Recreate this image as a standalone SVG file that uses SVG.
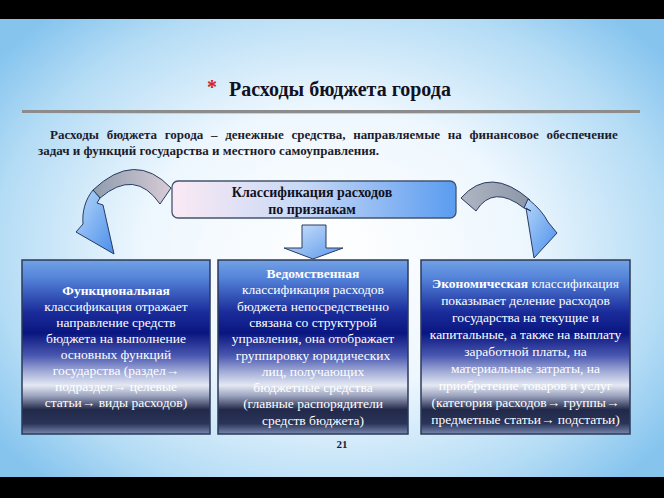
<svg xmlns="http://www.w3.org/2000/svg" width="664" height="498" viewBox="0 0 664 498" font-family="'Liberation Serif', 'DejaVu Serif', serif">
<defs>
<radialGradient id="bg" cx="332" cy="250" r="420" gradientUnits="userSpaceOnUse" gradientTransform="translate(332 250) scale(1 0.75) translate(-332 -250)">
<stop offset="0" stop-color="#ffffff"/>
<stop offset="0.45" stop-color="#eef7fe"/>
<stop offset="0.8" stop-color="#b4dcf5"/>
<stop offset="1" stop-color="#86c4ee"/>
</radialGradient>
<linearGradient id="boxg" x1="0" y1="0" x2="0" y2="1">
<stop offset="0" stop-color="#72a2e4"/>
<stop offset="0.1" stop-color="#5584da"/>
<stop offset="0.3" stop-color="#1a2c9a"/>
<stop offset="0.42" stop-color="#0a1680"/>
<stop offset="0.55" stop-color="#4a58b0"/>
<stop offset="0.64" stop-color="#a0aad8"/>
<stop offset="0.72" stop-color="#e4e8f2"/>
<stop offset="0.78" stop-color="#9ca4c0"/>
<stop offset="0.86" stop-color="#22294a"/>
<stop offset="0.94" stop-color="#2a3458"/>
<stop offset="1" stop-color="#7888b0"/>
</linearGradient>
<linearGradient id="ctrg" x1="0" y1="0" x2="1" y2="0">
<stop offset="0" stop-color="#fbeaf4"/>
<stop offset="0.45" stop-color="#c9d9f6"/>
<stop offset="1" stop-color="#5a9cf0"/>
</linearGradient>
<linearGradient id="bandL" x1="0" y1="0" x2="1" y2="0">
<stop offset="0" stop-color="#8e9cae"/>
<stop offset="1" stop-color="#d8ccd6"/>
</linearGradient>
<linearGradient id="bandR" x1="0" y1="0" x2="1" y2="0">
<stop offset="0" stop-color="#b0b6c2"/>
<stop offset="1" stop-color="#8a96a8"/>
</linearGradient>
<linearGradient id="headg" x1="0" y1="0" x2="1" y2="1">
<stop offset="0" stop-color="#b8d8fa"/>
<stop offset="1" stop-color="#4a8eea"/>
</linearGradient>
<linearGradient id="downg" x1="0" y1="0" x2="1" y2="1">
<stop offset="0" stop-color="#d0e4fa"/>
<stop offset="1" stop-color="#5a98ec"/>
</linearGradient>
<style>
text{font-family:"Liberation Serif","DejaVu Serif",serif;}
.title{font-size:20px;font-weight:bold;fill:#111122;}
.para{font-size:13px;font-weight:bold;fill:#1c1c2c;}
.bt{font-size:13.5px;fill:#ffffff;text-anchor:middle;}
.b{font-weight:bold;}
.box{fill:url(#boxg);stroke:#2c3a58;stroke-width:1.5;}
.ctr{font-size:14px;font-weight:bold;fill:#111122;text-anchor:middle;}
.arr{stroke:#2a3a60;stroke-width:1;stroke-linejoin:round;}
</style>
</defs>

<rect x="0" y="0" width="664" height="498" fill="url(#bg)"/>
<rect x="0" y="0" width="664" height="19" fill="#000"/>
<rect x="0" y="477" width="664" height="21" fill="#000"/>

<g id="title">
<text x="207" y="94" font-size="20" font-weight="bold" fill="#d42020">*</text>
<text x="229" y="96" class="title">Расходы бюджета города</text>
<rect x="22" y="110" width="618" height="3" fill="#8c8c8c"/>
<rect x="22" y="113" width="618" height="1" fill="#c8d0d8"/>
</g>

<g id="definition" class="para">
<text x="50" y="139" word-spacing="4.5">Расходы бюджета города – денежные средства, направляемые на финансовое обеспечение</text>
<text x="38" y="155">задач и функций государства и местного самоуправления.</text>
</g>

<g id="connectors">
<path class="arr" fill="url(#bandL)" d="M171,188 Q135,150 93,190 L100,198 Q135,168 160,204 Z"/>
<path class="arr" fill="url(#headg)" d="M93,190 C85,200 82,212 83,224 L76,232 L114,254 L103,205 L97,203 L100,198 Z"/>
<path class="arr" fill="url(#bandR)" d="M461,198 Q490,165 530,200 L524,208 Q493,184 476,211 Z"/>
<path class="arr" fill="url(#headg)" d="M528,199 Q542,210 548,222 L557,233 L534,258 L526,208 L531,211 L524,208 Z"/>
<path class="arr" fill="url(#downg)" d="M302,225 L326,225 L326,248 L343,248 L313,259 L284,248 L302,248 Z"/>
</g>

<g id="center-node">
<rect x="172" y="181" width="284" height="37" rx="6" fill="url(#ctrg)" stroke="#44546e" stroke-width="1.3"/>
<text x="312" y="197" class="ctr">Классификация расходов</text>
<text x="312" y="214" class="ctr">по признакам</text>
</g>

<g id="functional-node">
<rect class="box" x="22" y="260" width="188" height="174"/>
<g class="bt">
<text x="116" y="295" class="b">Функциональная</text>
<text x="116" y="311">классификация отражает</text>
<text x="116" y="327">направление средств</text>
<text x="116" y="343">бюджета на выполнение</text>
<text x="116" y="359">основных функций</text>
<text x="116" y="375">государства (раздел→</text>
<text x="116" y="391">подраздел→ целевые</text>
<text x="116" y="407">статьи→ виды расходов)</text>
</g>
</g>

<g id="departmental-node">
<rect class="box" x="218" y="260" width="190" height="174"/>
<g class="bt">
<text x="313" y="278" class="b">Ведомственная</text>
<text x="313" y="294.3">классификация расходов</text>
<text x="313" y="310.6">бюджета непосредственно</text>
<text x="313" y="326.9">связана со структурой</text>
<text x="313" y="343.2">управления, она отображает</text>
<text x="313" y="359.5">группировку юридических</text>
<text x="313" y="375.8">лиц, получающих</text>
<text x="313" y="392.1">бюджетные средства</text>
<text x="313" y="408.4">(главные распорядители</text>
<text x="313" y="424.7">средств бюджета)</text>
</g>
</g>

<g id="economic-node">
<rect class="box" x="421" y="260" width="209" height="174"/>
<g class="bt">
<text x="525.5" y="288"><tspan class="b">Экономическая</tspan> классификация</text>
<text x="525.5" y="305">показывает деление расходов</text>
<text x="525.5" y="322">государства на текущие и</text>
<text x="525.5" y="339">капитальные, а также на выплату</text>
<text x="525.5" y="356">заработной платы, на</text>
<text x="525.5" y="373">материальные затраты, на</text>
<text x="525.5" y="390">приобретение товаров и услуг</text>
<text x="525.5" y="407">(категория расходов→ группы→</text>
<text x="525.5" y="424">предметные статьи→ подстатьи)</text>
</g>
</g>

<text x="342" y="448" font-size="11" font-weight="bold" fill="#1c1c2c" text-anchor="middle">21</text>
</svg>
